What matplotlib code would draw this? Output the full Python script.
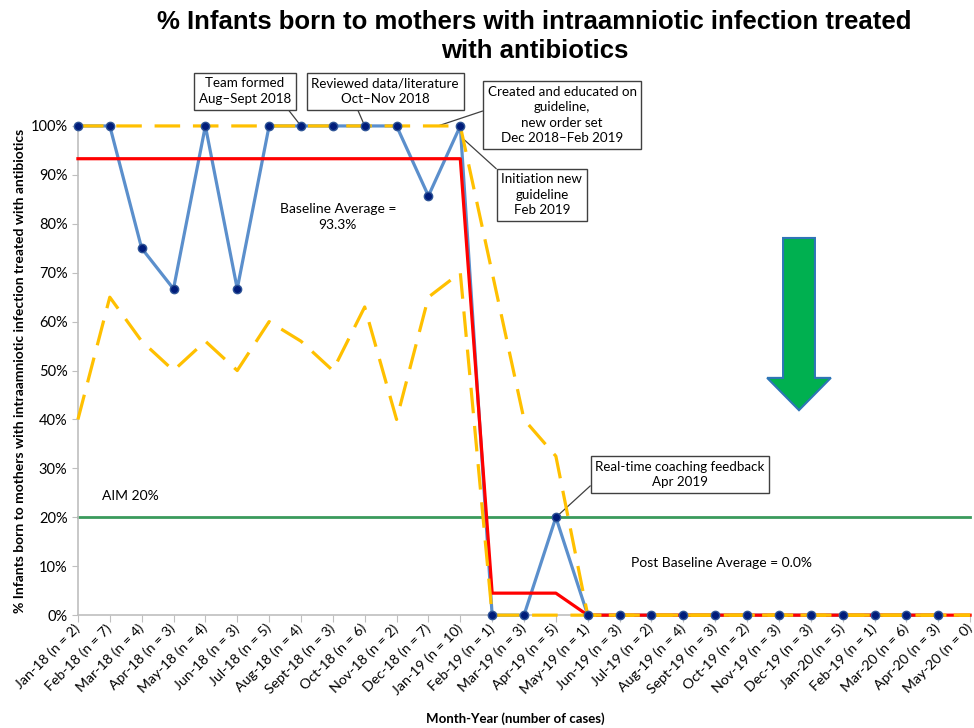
import numpy as np
import matplotlib
matplotlib.use('Agg')
import matplotlib.pyplot as plt
import matplotlib.patches as mpatches
import matplotlib.transforms as mtransforms
from matplotlib.ticker import FuncFormatter

plt.rcParams['font.family'] = ['Lato', 'DejaVu Sans']

months = ['Jan-18 (n = 2)', 'Feb-18 (n = 7)', 'Mar-18 (n = 4)', 'Apr-18 (n = 3)',
          'May-18 (n = 4)', 'Jun-18 (n = 3)', 'Jul-18 (n = 5)', 'Aug-18 (n = 4)',
          'Sept-18 (n = 3)', 'Oct-18 (n = 6)', 'Nov-18 (n = 2)', 'Dec-18 (n = 7)',
          'Jan-19 (n = 10)', 'Feb-19 (n = 1)', 'Mar-19 (n = 3)', 'Apr-19 (n = 5)',
          'May-19 (n = 1)', 'Jun-19 (n = 3)', 'Jul-19 (n = 2)', 'Aug-19 (n = 4)',
          'Sept-19 (n = 3)', 'Oct-19 (n = 2)', 'Nov-19 (n = 3)', 'Dec-19 (n = 3)',
          'Jan-20 (n = 5)', 'Feb-19 (n = 1)', 'Mar-20 (n = 6)', 'Apr-20 (n = 3)',
          'May-20 (n = 0)']

# percent treated (May-20 has no cases)
pct = [100, 100, 75, 66.7, 100, 66.7, 100, 100, 100, 100, 100, 85.7, 100,
       0, 0, 20, 0, 0, 0, 0, 0, 0, 0, 0, 0, 0, 0, 0, np.nan]
center = [93.3] * 13 + [4.5, 4.5, 4.5] + [0] * 13
ucl = [100] * 13 + [70, 40, 32.5] + [0] * 13
lcl = [40, 65, 56, 50, 56, 50, 60, 56, 50, 63, 40, 65, 70] + [0] * 16
aim = 20

x = np.arange(len(months))

fig = plt.figure(figsize=(9.74, 7.28), dpi=100)
ax = fig.add_axes([0.080, 0.155, 0.916, 0.672])

ax.plot(x, pct, color='#5b8fcc', lw=2.3, zorder=3, clip_on=False)
ax.plot(x, center, color='#ff0000', lw=2.3, zorder=4, clip_on=False)
ax.plot(x, ucl, color='#ffc000', lw=2.3, dashes=(8, 4), zorder=5, clip_on=False)
ax.plot(x, lcl, color='#ffc000', lw=2.3, dashes=(8, 4), zorder=5, clip_on=False)
ax.plot(x, pct, ls='none', marker='o', ms=6, mfc='#001c7a', mec='#2f5597',
        zorder=6, clip_on=False)
ax.axhline(aim, color='#3a9a5c', lw=2, zorder=2, clip_on=False)

ax.set_xlim(0, len(months) - 1)
ax.set_ylim(0, 100)
ax.set_yticks(np.arange(0, 101, 10))
ax.yaxis.set_major_formatter(FuncFormatter(lambda v, p: '%d%%' % v))
ax.set_xticks(x)
ax.set_xticklabels(months, rotation=45, ha='right', va='center',
                   rotation_mode='anchor', fontsize=10.2)
shift = mtransforms.ScaledTranslation(-3 / 100, -6 / 100, fig.dpi_scale_trans)
for lab in ax.get_xticklabels():
    lab.set_transform(lab.get_transform() + shift)
ax.tick_params(axis='y', labelsize=10.5, color='#bfbfbf', length=4)
ax.tick_params(axis='x', color='#bfbfbf', length=5, pad=3)
for s in ['top', 'right']:
    ax.spines[s].set_visible(False)
for s in ['left', 'bottom']:
    ax.spines[s].set_color('#bfbfbf')
    ax.spines[s].set_linewidth(1.2)

ax.set_ylabel('% Infants born to mothers with intraamniotic infection treated with antibiotics',
              fontsize=10, fontweight='bold', labelpad=3)
ax.set_xlabel('Month-Year (number of cases)', fontsize=9.5, fontweight='bold')
ax.xaxis.set_label_coords(0.49, -0.198)

fig.text(0.549, 0.986, '% Infants born to mothers with intraamniotic infection treated\nwith antibiotics',
         ha='center', va='top', fontsize=18.5, fontweight='bold', linespacing=1.25,
         family=['Liberation Sans Narrow', 'Liberation Sans'])

box = dict(boxstyle='square,pad=0.35', fc='white', ec='#404040', lw=1)
arrow = dict(arrowstyle='-', color='#404040', lw=0.9, shrinkA=0, shrinkB=0)
kw = dict(ha='center', va='center', fontsize=9.6, bbox=box, linespacing=1.35,
          annotation_clip=False)

ax.annotate('Team formed\nAug\u2013Sept 2018', xy=(7, 100), xytext=(5.24, 107.1),
            arrowprops=dict(arrow, relpos=(0.93, 0)), **kw)
ax.annotate('Reviewed data/literature\nOct\u2013Nov 2018', xy=(9, 100), xytext=(9.64, 107.1),
            arrowprops=dict(arrow, relpos=(0.3, 0)), **kw)
ax.annotate('Created and educated on\nguideline,\nnew order set\nDec 2018\u2013Feb 2019',
            xy=(11.3, 100), xytext=(15.2, 102.2),
            arrowprops=dict(arrow, relpos=(0, 0.6)), **kw)
ax.annotate('Initiation new\nguideline\nFeb 2019', xy=(12.12, 97.2), xytext=(14.56, 85.9),
            arrowprops=dict(arrow, relpos=(0, 1)), **kw)
ax.annotate('Real-time coaching feedback\nApr 2019', xy=(15, 20), xytext=(18.9, 28.8),
            arrowprops=dict(arrow, relpos=(0, 0.25)), **kw)

ax.text(8.16, 81.4, 'Baseline Average =\n93.3%', ha='center', va='center', fontsize=10,
        linespacing=1.35)
ax.text(0.75, 24.3, 'AIM 20%', ha='left', va='center', fontsize=10)
ax.text(20.2, 10.6, 'Post Baseline Average = 0.0%', ha='center', va='center', fontsize=10)

ax.add_patch(mpatches.FancyArrow(22.63, 77.1, 0, -35.2, width=1.0, head_width=2.0,
                                 head_length=6.6, length_includes_head=True,
                                 fc='#00b050', ec='#2e75b6', lw=1.5, zorder=7))

fig.savefig('out.png', dpi=100)
